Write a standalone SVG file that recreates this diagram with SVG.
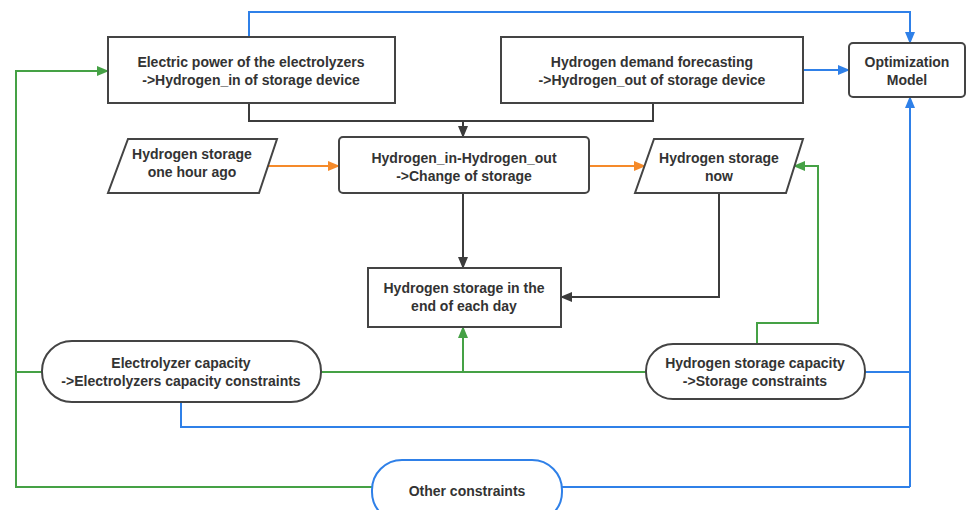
<svg xmlns="http://www.w3.org/2000/svg" width="968" height="510" viewBox="0 0 968 510">
<defs>
<style>
.box{fill:#fff;stroke:#444;stroke-width:2}
.t{font-family:"Liberation Sans",Arial,sans-serif;font-size:14px;font-weight:bold;fill:#333;text-anchor:middle}
.c{fill:none;stroke-width:2}
.k{stroke:#3c3c3c}
.g{stroke:#45a145}
.b{stroke:#2f80e8}
.o{stroke:#f58a2a}
</style>
<marker id="ak" markerUnits="userSpaceOnUse" markerWidth="12" markerHeight="10" refX="11" refY="5" orient="auto"><path d="M0,0 L12,5 L0,10 Z" fill="#3c3c3c"/></marker>
<marker id="ag" markerUnits="userSpaceOnUse" markerWidth="12" markerHeight="10" refX="11" refY="5" orient="auto"><path d="M0,0 L12,5 L0,10 Z" fill="#45a145"/></marker>
<marker id="ab" markerUnits="userSpaceOnUse" markerWidth="12" markerHeight="10" refX="11" refY="5" orient="auto"><path d="M0,0 L12,5 L0,10 Z" fill="#2f80e8"/></marker>
<marker id="ao" markerUnits="userSpaceOnUse" markerWidth="12" markerHeight="10" refX="11" refY="5" orient="auto"><path d="M0,0 L12,5 L0,10 Z" fill="#f58a2a"/></marker>
</defs>
<rect width="968" height="510" fill="#fff"/>
<g id="connectors">
<path class="c b" d="M249,37 V12 H910 V43" marker-end="url(#ab)"/>
<path class="c b" d="M803,70 H849" marker-end="url(#ab)"/>
<path class="c b" d="M910,487 V97" marker-end="url(#ab)"/>
<path class="c b" d="M562,487 H910"/>
<path class="c b" d="M865,372 H910"/>
<path class="c b" d="M181,402 V427 H910"/>
<path class="c g" d="M372,487 H16 V71 H108" marker-end="url(#ag)"/>
<path class="c g" d="M42,372 H16"/>
<path class="c g" d="M321,372 H646"/>
<path class="c g" d="M463,372 V327" marker-end="url(#ag)"/>
<path class="c g" d="M757,344 V323 H818 V166 H794" marker-end="url(#ag)"/>
<path class="c k" d="M249,103 V121 H463 V137" marker-end="url(#ak)"/>
<path class="c k" d="M653,103 V121 H463"/>
<path class="c k" d="M463,193 V268" marker-end="url(#ak)"/>
<path class="c k" d="M719,193 V297 H561" marker-end="url(#ak)"/>
<path class="c o" d="M268,166 H339" marker-end="url(#ao)"/>
<path class="c o" d="M589,166 H645" marker-end="url(#ao)"/>
</g>
<g id="elec">
<rect class="box" x="108" y="37" width="287" height="66"/>
<text class="t" x="251" y="67">Electric power of the electrolyzers</text>
<text class="t" x="251" y="85">-&gt;Hydrogen_in of storage device</text>
</g>
<g id="demand">
<rect class="box" x="501" y="37" width="302" height="66"/>
<text class="t" x="652" y="67">Hydrogen demand forecasting</text>
<text class="t" x="652" y="85">-&gt;Hydrogen_out of storage device</text>
</g>
<g id="opt">
<rect class="box" x="849" y="43" width="116" height="54" rx="4"/>
<text class="t" x="907" y="67">Optimization</text>
<text class="t" x="907" y="85">Model</text>
</g>
<g id="ago">
<polygon class="box" points="128,139 277,139 259,193 108,193"/>
<text class="t" x="192" y="159">Hydrogen storage</text>
<text class="t" x="192" y="177">one hour ago</text>
</g>
<g id="change">
<rect class="box" x="339" y="137" width="250" height="56" rx="4"/>
<text class="t" x="464" y="163">Hydrogen_in-Hydrogen_out</text>
<text class="t" x="464" y="181">-&gt;Change of storage</text>
</g>
<g id="now">
<polygon class="box" points="654,139 803,139 786,193 635,193"/>
<text class="t" x="719" y="163">Hydrogen storage</text>
<text class="t" x="719" y="181">now</text>
</g>
<g id="end">
<rect class="box" x="368" y="268" width="193" height="59"/>
<text class="t" x="464" y="293">Hydrogen storage in the</text>
<text class="t" x="464" y="311">end of each day</text>
</g>
<g id="elcap">
<rect class="box" x="42" y="341" width="279" height="61" rx="30"/>
<text class="t" x="181" y="368">Electrolyzer capacity</text>
<text class="t" x="181" y="386">-&gt;Electrolyzers capacity constraints</text>
</g>
<g id="stcap">
<rect class="box" x="646" y="344" width="219" height="55" rx="27"/>
<text class="t" x="755" y="368">Hydrogen storage capacity</text>
<text class="t" x="755" y="386">-&gt;Storage constraints</text>
</g>
<g id="other">
<rect x="372" y="460" width="190" height="62" rx="30" fill="#fff" stroke="#2f80e8" stroke-width="2"/>
<text class="t" x="467" y="496">Other constraints</text>
</g>
</svg>
